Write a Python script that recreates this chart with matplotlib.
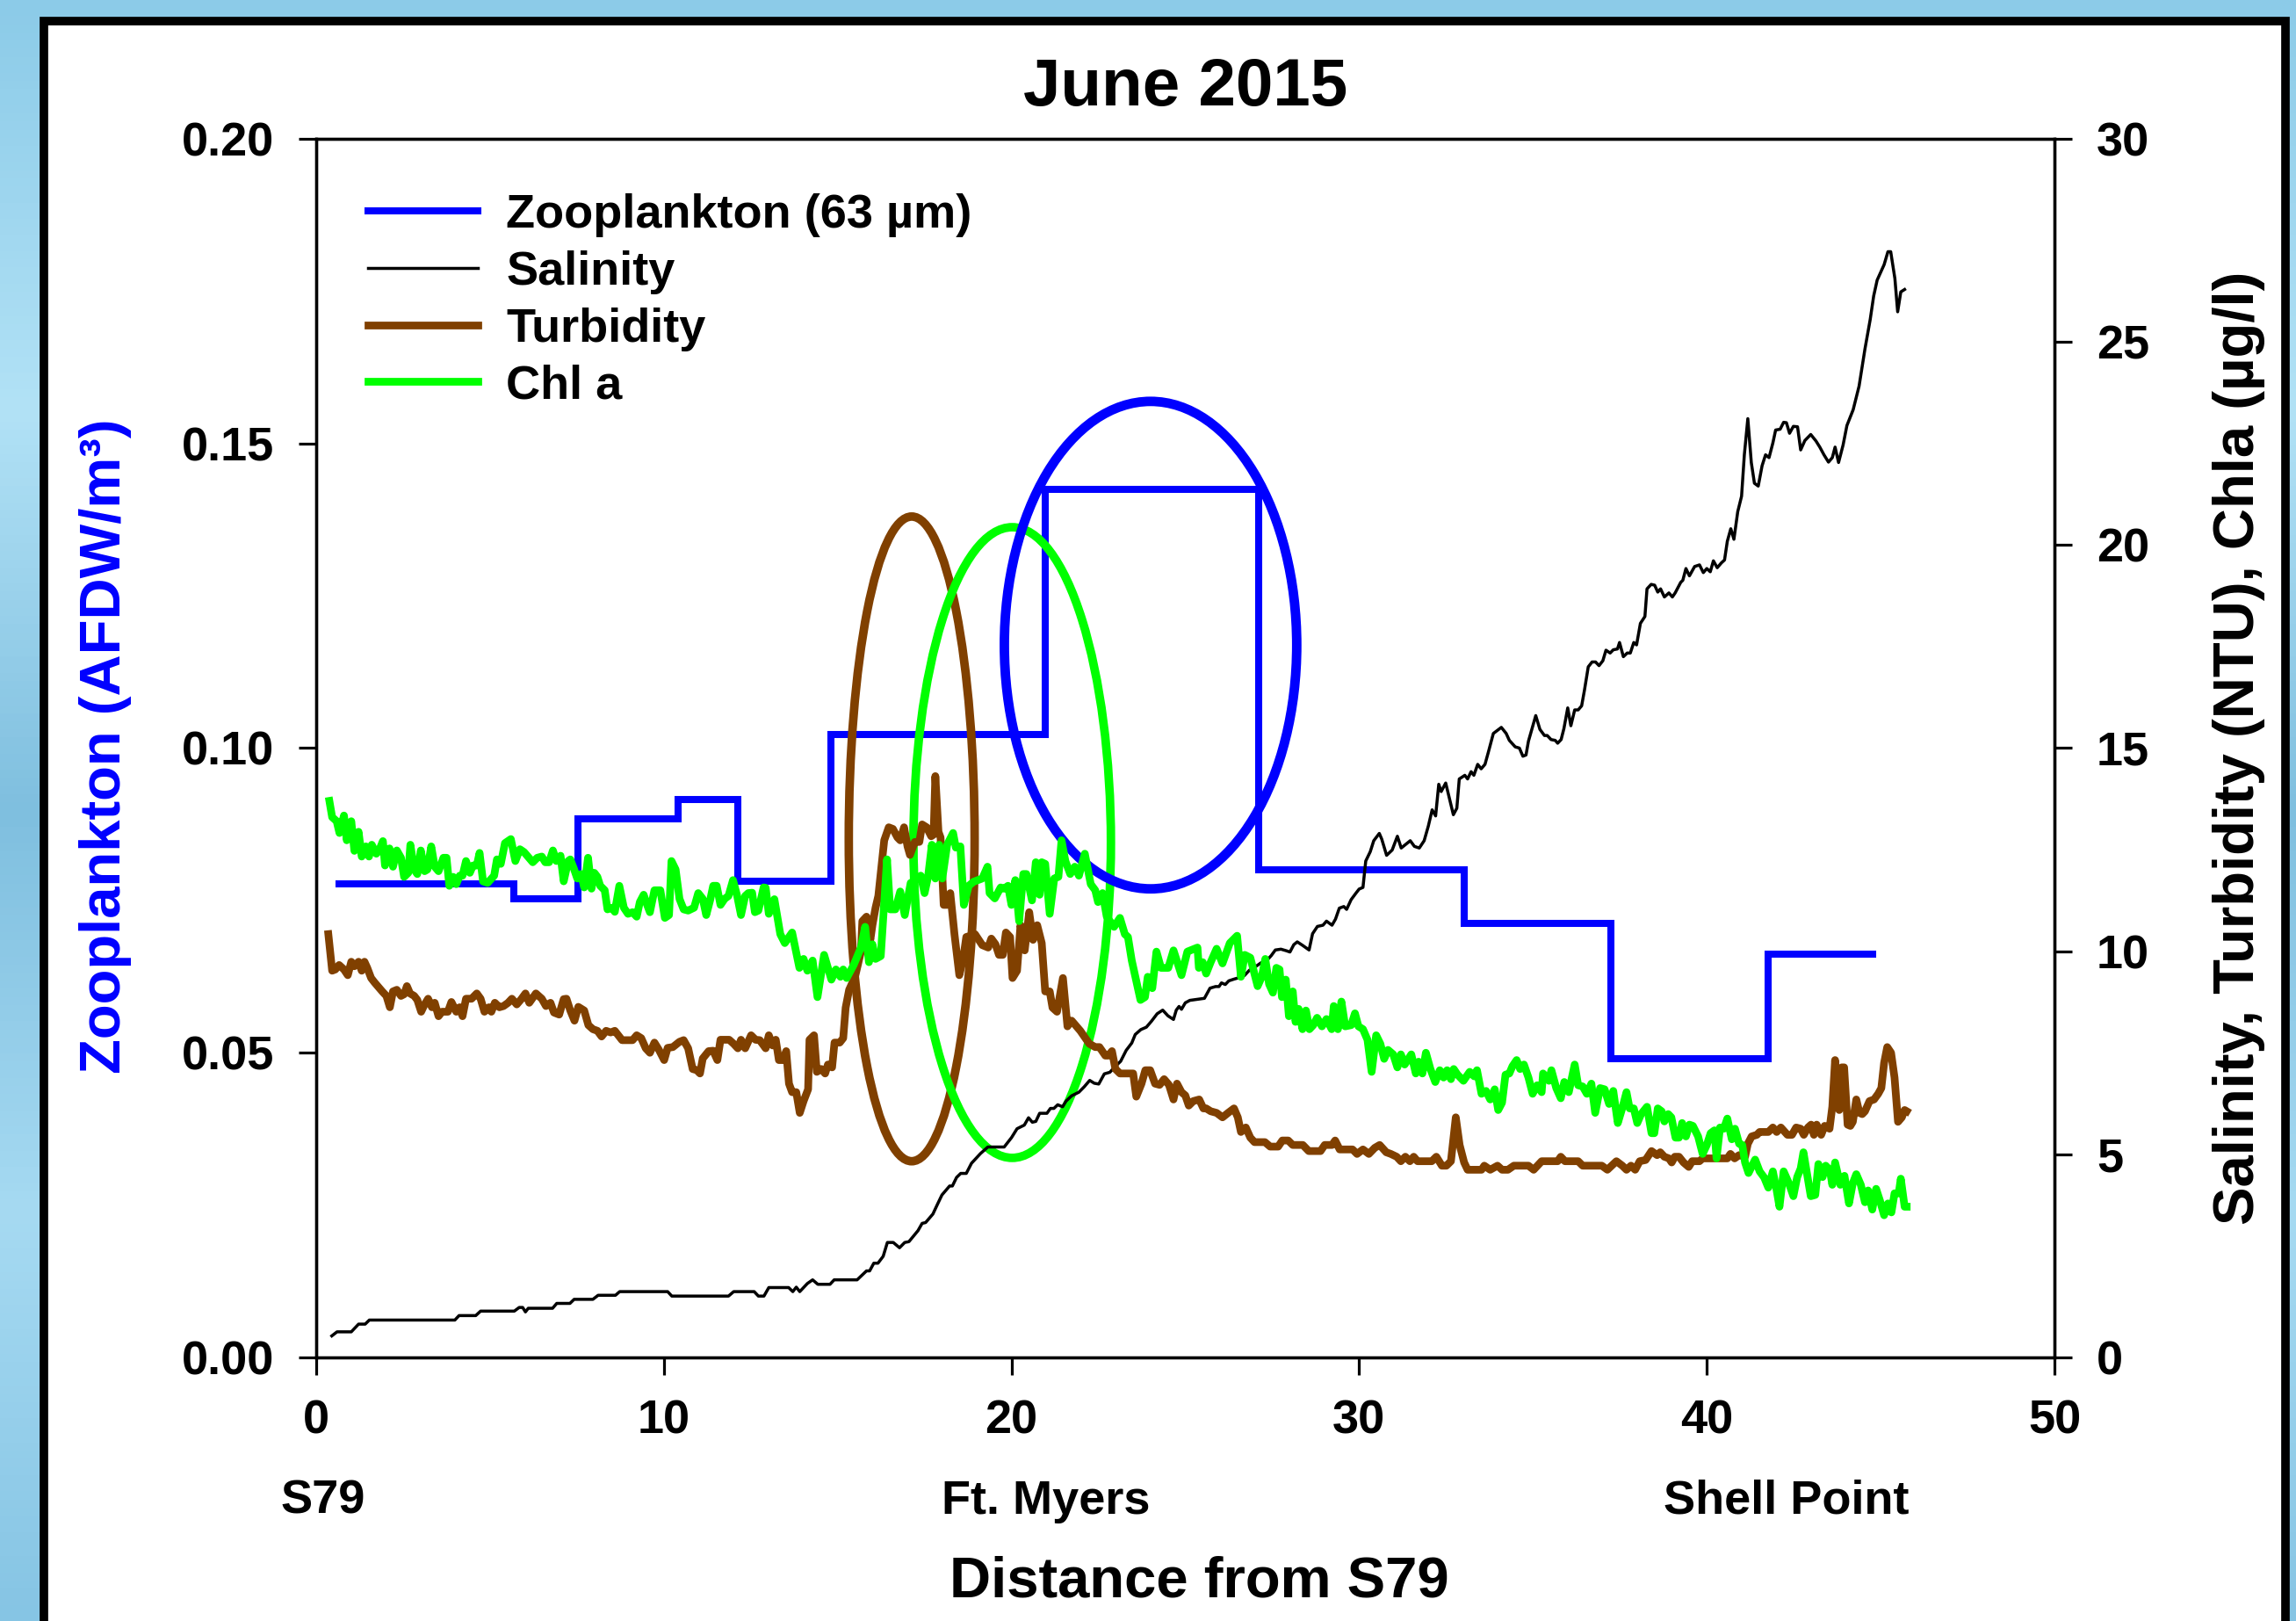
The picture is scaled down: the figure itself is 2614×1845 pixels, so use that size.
import numpy as np
import matplotlib
matplotlib.use("Agg")
import matplotlib.pyplot as plt
from matplotlib.patches import Ellipse, Rectangle
from matplotlib.colors import LinearSegmentedColormap

# zooplankton biomass, one level per sampling segment (AFDW/m3)
zoo_edges = [0.67, 5.69, 7.52, 10.40, 12.13, 14.81, 20.97, 27.12, 33.02, 37.23, 41.76, 44.78]
zoo_afdw = [0.0777, 0.0753, 0.0884, 0.0915, 0.0782, 0.1022, 0.1425, 0.0800, 0.0713, 0.0490, 0.0662]

# salinity transect
sal_km = [0.45, 0.60, 1.01, 1.22, 1.41, 1.53, 3.99, 4.11, 4.59, 4.73, 5.70, 5.84, 5.94, 6.02, 6.10,
          6.80, 6.92, 7.30, 7.42, 7.96, 8.11, 8.61, 8.73, 10.11, 10.23, 11.86, 12.01, 12.60, 12.72,
          12.88, 13.02, 13.59, 13.71, 13.81, 13.91, 14.13, 14.28, 14.43, 14.78, 14.90, 15.56, 15.83,
          15.92, 16.04, 16.16, 16.31, 16.43, 16.60, 16.78, 16.93, 17.05, 17.31, 17.43, 17.53, 17.74,
          17.86, 18.00, 18.22, 18.30, 18.42, 18.54, 18.70, 18.85, 19.11, 19.32, 19.79, 20.00, 20.16,
          20.37, 20.49, 20.60, 20.70, 20.81, 21.02, 21.12, 21.22, 21.33, 21.47, 21.57, 21.73, 21.94,
          22.09, 22.25, 22.38, 22.51, 22.67, 22.83, 22.98, 23.14, 23.30, 23.46, 23.56, 23.72, 23.88,
          24.03, 24.19, 24.35, 24.50, 24.66, 24.74, 24.82, 24.89, 25.00, 25.13, 25.55, 25.71, 25.87,
          25.97, 26.04, 26.15, 26.25, 26.39, 26.55, 26.70, 26.84, 27.02, 27.17, 27.33, 27.47, 27.59,
          27.75, 27.91, 28.01, 28.12, 28.22, 28.38, 28.56, 28.66, 28.80, 28.96, 29.06, 29.22, 29.32,
          29.43, 29.56, 29.64, 29.77, 29.90, 30.00, 30.11, 30.19, 30.32, 30.42, 30.58, 30.65, 30.79,
          30.95, 31.10, 31.21, 31.34, 31.47, 31.59, 31.73, 31.87, 31.99, 32.10, 32.20, 32.29, 32.36,
          32.49, 32.60, 32.71, 32.81, 32.88, 33.04, 33.12, 33.22, 33.30, 33.41, 33.51, 33.62, 33.72,
          33.86, 34.09, 34.23, 34.32, 34.49, 34.61, 34.71, 34.80, 34.87, 35.08, 35.20, 35.33, 35.41,
          35.52, 35.64, 35.71, 35.81, 35.89, 36.00, 36.09, 36.20, 36.30, 36.40, 36.48, 36.59, 36.70,
          36.80, 36.90, 37.01, 37.10, 37.22, 37.31, 37.43, 37.49, 37.60, 37.71, 37.80, 37.90, 37.98,
          38.09, 38.22, 38.28, 38.40, 38.50, 38.59, 38.67, 38.78, 38.91, 39.01, 39.09, 39.25, 39.31,
          39.40, 39.50, 39.65, 39.79, 39.90, 40.00, 40.10, 40.19, 40.30, 40.42, 40.51, 40.59, 40.69,
          40.78, 40.89, 41.00, 41.08, 41.18, 41.28, 41.37, 41.48, 41.59, 41.69, 41.79, 41.90, 41.98,
          42.11, 42.21, 42.29, 42.38, 42.49, 42.61, 42.70, 42.82, 42.99, 43.14, 43.25, 43.37, 43.50,
          43.61, 43.69, 43.79, 43.92, 44.03, 44.21, 44.38, 44.55, 44.70, 44.80, 44.90, 45.10, 45.21,
          45.29, 45.41, 45.49, 45.58, 45.69]
sal_psu = [0.53, 0.63, 0.63, 0.82, 0.82, 0.92, 0.92, 1.03, 1.03, 1.14, 1.14, 1.23, 1.23, 1.12, 1.21,
           1.21, 1.33, 1.33, 1.43, 1.43, 1.53, 1.53, 1.62, 1.62, 1.51, 1.51, 1.62, 1.62, 1.51,
           1.51, 1.72, 1.72, 1.62, 1.73, 1.62, 1.82, 1.91, 1.80, 1.80, 1.91, 1.91, 2.13,
           2.13, 2.32, 2.32, 2.49, 2.83, 2.83, 2.70, 2.83, 2.85, 3.12, 3.30, 3.32, 3.53,
           3.75, 4.00, 4.22, 4.22, 4.43, 4.53, 4.53, 4.78, 5.02, 5.18, 5.18, 5.41, 5.63,
           5.72, 5.90, 5.79, 5.81, 6.01, 6.01, 6.13, 6.13, 6.22, 6.17, 6.31, 6.44, 6.53,
           6.66, 6.82, 6.75, 6.73, 6.98, 7.02, 7.16, 7.29, 7.56, 7.74, 7.95, 8.07, 8.13,
           8.28, 8.46, 8.55, 8.41, 8.32, 8.55, 8.64, 8.57, 8.73, 8.79, 8.84, 9.09, 9.13,
           9.13, 9.22, 9.18, 9.27, 9.31, 9.35, 9.40, 9.53, 9.62, 9.71, 9.76, 9.89, 10.03,
           10.05, 10.01, 9.98, 10.16, 10.23, 10.14, 10.03, 10.43, 10.61, 10.64, 10.74, 10.64, 10.79,
           11.06, 11.10, 11.03, 11.27, 11.42, 11.53, 11.57, 12.22, 12.45, 12.72, 12.90, 12.76, 12.36,
           12.49, 12.83, 12.54, 12.63, 12.72, 12.58, 12.54, 12.72, 13.08, 13.48, 13.33, 14.11, 13.93,
           14.14, 13.75, 13.36, 13.52, 14.24, 14.33, 14.24, 14.42, 14.33, 14.60, 14.49, 14.60, 14.91,
           15.36, 15.51, 15.36, 15.19, 15.03, 15.00, 14.80, 14.83, 15.17, 15.80, 15.46, 15.31, 15.31,
           15.21, 15.19, 15.12, 15.21, 15.48, 15.99, 15.55, 15.94, 15.94, 16.04, 16.42, 17.00, 17.12,
           17.12, 17.03, 17.15, 17.41, 17.34, 17.42, 17.44, 17.60, 17.25, 17.34, 17.34, 17.60, 17.54,
           18.07, 18.24, 18.92, 19.03, 19.01, 18.84, 18.92, 18.72, 18.82, 18.72, 18.82, 19.08, 19.13,
           19.42, 19.24, 19.47, 19.51, 19.32, 19.42, 19.34, 19.61, 19.44, 19.56, 19.63, 20.09, 20.40,
           20.14, 20.82, 21.20, 22.22, 23.11, 22.03, 21.52, 21.45, 21.95, 22.22, 22.15, 22.51, 22.83,
           22.85, 23.02, 23.01, 22.75, 22.92, 22.91, 22.34, 22.57, 22.72, 22.56, 22.41, 22.22, 22.04,
           22.15, 22.41, 22.03, 22.46, 22.94, 23.33, 23.91, 24.83, 25.55, 26.13, 26.52, 26.90, 27.22,
           27.22, 26.56, 25.74, 26.23, 26.29]

# turbidity transect (NTU)
turb_km = [0.35, 0.46, 0.55, 0.66, 0.80, 0.91, 1.01, 1.10, 1.22, 1.31, 1.39, 1.47, 1.58, 1.68, 1.90,
           2.02, 2.12, 2.21, 2.32, 2.44, 2.53, 2.61, 2.70, 2.82, 2.91, 3.02, 3.12, 3.22, 3.33, 3.41,
           3.52, 3.62, 3.79, 3.89, 4.03, 4.13, 4.21, 4.31, 4.47, 4.62, 4.73, 4.84, 4.97, 5.04, 5.14,
           5.27, 5.39, 5.52, 5.63, 5.77, 5.90, 6.02, 6.13, 6.32, 6.49, 6.61, 6.74, 6.84, 6.99, 7.12,
           7.20, 7.31, 7.43, 7.54, 7.71, 7.83, 7.96, 8.09, 8.21, 8.34, 8.47, 8.59, 8.80, 9.10, 9.22,
           9.35, 9.48, 9.60, 9.73, 9.86, 10.01, 10.11, 10.26, 10.45, 10.57, 10.70, 10.83, 10.95, 11.04,
           11.12, 11.29, 11.42, 11.54, 11.63, 11.88, 12.01, 12.13, 12.22, 12.34, 12.51, 12.64, 12.76,
           12.93, 13.02, 13.13, 13.22, 13.31, 13.43, 13.52, 13.60, 13.69, 13.81, 13.91, 14.02, 14.15,
           14.19, 14.32, 14.40, 14.53, 14.64, 14.72, 14.84, 14.91, 15.06, 15.16, 15.23, 15.33, 15.50,
           15.67, 15.71, 15.83, 15.94, 16.00, 16.09, 16.17, 16.34, 16.47, 16.59, 16.72, 16.80, 16.91,
           17.01, 17.08, 17.22, 17.35, 17.43, 17.56, 17.69, 17.76, 17.81, 17.90, 17.96, 18.05, 18.15,
           18.24, 18.36, 18.50, 18.61, 18.70, 18.82, 18.95, 19.16, 19.33, 19.42, 19.54, 19.64, 19.75,
           19.84, 19.96, 20.03, 20.16, 20.26, 20.38, 20.51, 20.62, 20.74, 20.87, 20.97, 21.10, 21.18,
           21.31, 21.48, 21.61, 21.73, 21.98, 22.24, 22.41, 22.53, 22.70, 22.79, 22.89, 22.99, 23.12,
           23.50, 23.59, 23.74, 23.85, 23.99, 24.13, 24.26, 24.39, 24.53, 24.66, 24.76, 24.89, 25.00,
           25.10, 25.23, 25.40, 25.52, 25.60, 25.73, 25.90, 26.07, 26.23, 26.40, 26.51, 26.60, 26.74,
           26.87, 26.99, 27.29, 27.44, 27.67, 27.79, 27.96, 28.09, 28.38, 28.55, 28.89, 29.01, 29.22,
           29.31, 29.44, 29.81, 29.94, 30.11, 30.28, 30.45, 30.59, 30.78, 30.91, 31.08, 31.20, 31.33,
           31.46, 31.57, 31.68, 32.09, 32.22, 32.38, 32.51, 32.64, 32.78, 32.89, 33.02, 33.12, 33.52,
           33.60, 33.77, 33.98, 34.11, 34.28, 34.45, 34.87, 35.02, 35.25, 35.71, 35.80, 35.92, 36.30,
           36.43, 36.98, 37.14, 37.40, 37.57, 37.69, 37.82, 37.94, 38.07, 38.24, 38.41, 38.57, 38.66,
           38.78, 38.91, 38.99, 39.08, 39.20, 39.33, 39.48, 39.58, 39.79, 39.88, 40.59, 40.68, 40.80,
           40.93, 41.10, 41.18, 41.29, 41.44, 41.52, 41.77, 41.90, 42.01, 42.13, 42.32, 42.45, 42.57,
           42.70, 42.79, 42.91, 43.00, 43.08, 43.16, 43.29, 43.39, 43.53, 43.61, 43.69, 43.75, 43.81,
           43.88, 43.95, 44.05, 44.13, 44.20, 44.30, 44.39, 44.47, 44.55, 44.68, 44.81, 44.93, 45.02,
           45.10, 45.19, 45.30, 45.40, 45.50, 45.61, 45.69, 45.75]
turb_ntu = [10.42, 9.52, 9.55, 9.66, 9.55, 9.41, 9.74, 9.63, 9.74, 9.52, 9.74, 9.59, 9.34, 9.23, 9.01,
            8.90, 8.62, 9.01, 9.05, 8.90, 8.94, 9.14, 8.96, 8.90, 8.80, 8.51, 8.69, 8.83, 8.62, 8.73,
            8.40, 8.51, 8.51, 8.75, 8.51, 8.62, 8.40, 8.83, 8.83, 8.96, 8.83, 8.51, 8.62, 8.51, 8.73,
            8.62, 8.65, 8.73, 8.83, 8.69, 8.82, 8.96, 8.73, 8.96, 8.83, 8.65, 8.73, 8.49, 8.44, 8.82,
            8.83, 8.54, 8.29, 8.63, 8.54, 8.18, 8.08, 8.04, 7.90, 8.04, 8.00, 8.04, 7.81, 7.81, 7.93,
            7.86, 7.61, 7.50, 7.75, 7.57, 7.32, 7.62, 7.64, 7.77, 7.81, 7.61, 7.10, 7.07, 6.99,
            7.36, 7.54, 7.55, 7.32, 7.82, 7.82, 7.72, 7.61, 7.82, 7.61, 7.93, 7.82, 7.81,
            7.61, 7.93, 7.68, 7.82, 7.32, 7.32, 7.54, 6.74, 6.53, 6.53, 6.02, 6.31, 6.60,
            7.82, 7.93, 7.03, 7.10, 6.99, 7.21, 7.14, 7.75, 7.75, 7.86, 8.61, 9.05, 9.37,
            9.99, 10.74, 10.85, 10.28, 10.64, 11.07, 11.36, 12.73, 13.05, 13.01, 12.80, 12.73, 13.05,
            12.58, 12.37, 12.69, 12.69, 13.12, 13.05, 12.83, 12.87, 14.31, 12.94, 12.80, 11.14, 11.14,
            11.43, 10.42, 9.41, 9.81, 10.35, 10.38, 10.42, 10.15, 10.09, 10.31, 10.17, 9.91, 9.91,
            10.46, 10.35, 9.34, 9.52, 10.64, 10.02, 10.96, 10.28, 10.64, 10.20, 9.01, 9.01, 8.61,
            8.51, 9.34, 8.15, 8.29, 8.04, 7.72, 7.64, 7.64, 7.43, 7.43, 7.54, 7.10, 6.99,
            6.99, 6.42, 6.74, 7.07, 7.07, 6.74, 6.71, 6.85, 6.71, 6.35, 6.74, 6.53, 6.45,
            6.20, 6.31, 6.35, 6.13, 6.13, 6.06, 6.02, 5.91, 6.02, 6.13, 5.91, 5.55, 5.66,
            5.41, 5.30, 5.30, 5.19, 5.19, 5.34, 5.34, 5.23, 5.23, 5.08, 5.08, 5.23, 5.23,
            5.34, 5.12, 5.12, 5.01, 5.12, 5.01, 5.16, 5.23, 5.05, 5.01, 4.94, 4.83, 4.94,
            4.83, 4.94, 4.83, 4.83, 4.94, 4.72, 4.72, 4.83, 5.91, 5.23, 4.80, 4.62, 4.62,
            4.72, 4.62, 4.72, 4.62, 4.62, 4.72, 4.72, 4.62, 4.83, 4.83, 4.94, 4.83, 4.83,
            4.72, 4.72, 4.62, 4.83, 4.72, 4.62, 4.72, 4.62, 4.83, 4.86, 5.08, 4.98, 5.05,
            4.94, 4.90, 4.80, 4.94, 4.94, 4.80, 4.69, 4.83, 4.83, 4.90, 4.90, 5.01, 4.90,
            4.98, 4.94, 5.26, 5.44, 5.48, 5.55, 5.55, 5.66, 5.55, 5.66, 5.48, 5.48, 5.66,
            5.63, 5.48, 5.66, 5.73, 5.48, 5.73, 5.48, 5.70, 5.63, 6.17, 7.32, 6.31, 6.09,
            7.14, 7.14, 5.73, 5.70, 5.80, 6.35, 6.02, 5.99, 6.06, 6.31, 6.35, 6.49, 6.63,
            7.25, 7.64, 7.50, 6.89, 5.80, 5.91, 6.09, 6.06]

# chlorophyll a transect (ug/l)
chl_km = [0.38, 0.46, 0.59, 0.67, 0.80, 0.88, 1.01, 1.10, 1.22, 1.31, 1.43, 1.52, 1.60, 1.73, 1.81,
          1.92, 1.98, 2.11, 2.21, 2.32, 2.44, 2.53, 2.65, 2.71, 2.82, 2.91, 3.01, 3.12, 3.20, 3.31,
          3.41, 3.52, 3.66, 3.75, 3.83, 3.94, 4.03, 4.13, 4.21, 4.31, 4.42, 4.51, 4.62, 4.70, 4.80,
          4.93, 5.12, 5.20, 5.31, 5.43, 5.60, 5.73, 5.86, 5.98, 6.23, 6.36, 6.49, 6.59, 6.70, 6.81,
          6.91, 7.03, 7.12, 7.25, 7.31, 7.41, 7.51, 7.62, 7.71, 7.82, 7.92, 8.00, 8.09, 8.17, 8.30,
          8.38, 8.51, 8.59, 8.72, 8.85, 8.97, 9.10, 9.22, 9.31, 9.42, 9.52, 9.60, 9.73, 9.90, 10.03,
          10.15, 10.22, 10.34, 10.45, 10.57, 10.70, 10.87, 10.99, 11.12, 11.22, 11.33, 11.42, 11.52,
          11.63, 11.75, 11.86, 11.99, 12.11, 12.22, 12.34, 12.43, 12.54, 12.62, 12.72, 12.87, 12.93,
          13.02, 13.18, 13.35, 13.48, 13.69, 13.90, 14.02, 14.13, 14.28, 14.42, 14.61, 14.82, 14.95,
          15.08, 15.16, 15.26, 15.46, 15.67, 15.79, 15.90, 16.00, 16.09, 16.24, 16.42, 16.51, 16.66,
          16.80, 16.93, 17.10, 17.25, 17.39, 17.50, 17.60, 17.71, 17.81, 17.92, 18.01, 18.15, 18.32,
          18.40, 18.53, 18.63, 18.77, 18.91, 19.16, 19.31, 19.37, 19.52, 19.69, 19.79, 19.90, 20.00,
          20.11, 20.22, 20.34, 20.43, 20.59, 20.70, 20.81, 20.87, 20.97, 21.10, 21.23, 21.35, 21.44,
          21.55, 21.69, 21.82, 21.94, 22.11, 22.28, 22.41, 22.49, 22.62, 22.74, 22.95, 23.12, 23.26,
          23.35, 23.46, 23.71, 23.84, 23.92, 24.05, 24.17, 24.30, 24.51, 24.66, 24.89, 25.06, 25.35,
          25.39, 25.50, 25.60, 25.73, 25.90, 26.07, 26.28, 26.49, 26.60, 26.71, 26.87, 27.08, 27.20,
          27.30, 27.41, 27.52, 27.62, 27.71, 27.78, 27.89, 27.98, 28.09, 28.17, 28.26, 28.37, 28.47,
          28.57, 28.68, 28.79, 28.93, 29.06, 29.21, 29.27, 29.39, 29.49, 29.60, 29.77, 29.88, 29.98,
          30.11, 30.24, 30.36, 30.49, 30.61, 30.72, 30.83, 30.98, 31.10, 31.20, 31.31, 31.50, 31.63,
          31.71, 31.82, 31.92, 32.05, 32.19, 32.32, 32.43, 32.53, 32.64, 32.72, 32.83, 33.00, 33.18,
          33.31, 33.39, 33.52, 33.65, 33.77, 33.90, 34.00, 34.11, 34.21, 34.32, 34.41, 34.53, 34.63,
          34.74, 34.87, 34.99, 35.12, 35.25, 35.29, 35.46, 35.53, 35.67, 35.80, 35.90, 36.03, 36.20,
          36.30, 36.43, 36.55, 36.68, 36.79, 36.93, 37.06, 37.19, 37.31, 37.44, 37.58, 37.69, 37.78,
          37.90, 38.00, 38.11, 38.28, 38.41, 38.49, 38.59, 38.70, 38.78, 38.89, 38.98, 39.10, 39.20,
          39.29, 39.40, 39.50, 39.60, 39.75, 39.88, 40.00, 40.11, 40.22, 40.28, 40.38, 40.49, 40.59,
          40.72, 40.81, 40.93, 41.02, 41.10, 41.20, 41.39, 41.52, 41.65, 41.77, 41.90, 42.01, 42.09,
          42.21, 42.36, 42.49, 42.60, 42.70, 42.78, 42.99, 43.12, 43.21, 43.33, 43.42, 43.54, 43.61,
          43.69, 43.84, 43.96, 44.09, 44.20, 44.30, 44.43, 44.55, 44.64, 44.76, 44.87, 44.98, 45.10,
          45.21, 45.31, 45.40, 45.52, 45.58, 45.69, 45.75]
chl_ugl = [13.70, 13.30, 13.20, 12.91, 13.34, 12.73, 13.20, 12.47, 12.94, 12.33, 12.58, 12.33, 12.62, 12.40, 12.48,
           12.71, 12.11, 12.53, 12.08, 12.48, 12.30, 11.83, 11.93, 12.62, 12.01, 11.90, 12.48, 11.97, 12.01, 12.58,
           12.08, 11.97, 12.30, 12.30, 11.61, 11.83, 11.65, 11.86, 11.86, 12.22, 11.93, 12.11, 12.11, 12.42, 11.72,
           11.68, 11.86, 12.26, 12.15, 12.66, 12.76, 12.22, 12.51, 12.44, 12.19, 12.30, 12.33, 12.19, 12.19, 12.48,
           12.22, 12.35, 11.72, 12.22, 12.26, 12.04, 11.79, 11.90, 11.57, 12.30, 11.54, 11.93, 11.83, 11.61, 11.50,
           11.03, 11.07, 10.97, 11.61, 11.07, 10.92, 10.96, 10.85, 11.21, 11.39, 11.14, 10.96, 11.50, 11.50, 10.82,
           10.89, 12.22, 12.01, 11.29, 11.03, 11.00, 11.07, 11.43, 11.29, 10.89, 11.25, 11.61, 11.61,
           11.14, 11.29, 11.36, 11.75, 11.36, 10.89, 11.36, 11.43, 11.44, 10.96, 11.00, 11.57, 11.56,
           10.92, 11.28, 10.42, 10.20, 10.46, 9.59, 9.81, 9.52, 9.77, 8.87, 9.91, 9.30, 9.55,
           9.37, 9.55, 9.34, 9.66, 10.09, 10.60, 9.73, 10.17, 9.81, 9.88, 12.26, 11.03, 11.03,
           11.47, 10.89, 11.68, 11.75, 11.86, 11.43, 11.83, 12.62, 11.79, 12.62, 11.79, 12.62, 12.91,
           12.55, 12.58, 11.14, 11.61, 11.71, 11.79, 12.08, 11.43, 11.30, 11.57, 11.54, 11.61, 11.14,
           11.75, 10.74, 11.90, 11.90, 11.25, 12.19, 11.39, 12.19, 12.15, 10.92, 11.79, 11.83, 12.73,
           12.22, 11.90, 12.08, 11.86, 12.40, 11.65, 11.50, 11.21, 11.43, 10.85, 10.60, 10.82, 10.42,
           10.35, 9.77, 8.80, 8.87, 9.37, 9.09, 9.99, 9.59, 9.59, 10.02, 9.41, 9.99, 10.09,
           9.59, 9.73, 9.45, 9.73, 10.06, 9.70, 10.20, 10.38, 9.37, 9.91, 9.84, 9.14, 9.37,
           9.81, 9.19, 8.98, 9.59, 9.55, 8.87, 9.30, 8.40, 9.01, 8.26, 8.58, 8.08, 8.54,
           8.08, 8.18, 8.36, 8.15, 8.33, 8.08, 8.65, 8.08, 8.76, 8.15, 8.18, 8.47, 8.15,
           8.08, 7.82, 7.03, 7.93, 7.72, 7.35, 7.57, 7.46, 7.14, 7.46, 7.21, 7.46, 6.99,
           7.28, 6.99, 7.50, 7.10, 6.78, 7.07, 6.89, 7.07, 6.85, 7.10, 6.96, 6.81, 7.03,
           6.92, 7.07, 6.49, 6.56, 6.35, 6.60, 6.09, 6.27, 6.96, 6.99, 7.17, 7.32, 7.10,
           7.21, 6.89, 6.49, 6.70, 6.53, 6.99, 6.81, 7.07, 6.63, 6.38, 6.78, 6.53, 7.21,
           6.70, 6.67, 6.49, 6.74, 6.02, 6.63, 6.60, 6.24, 6.56, 5.77, 6.17, 6.53, 6.13,
           6.13, 5.77, 5.99, 6.17, 5.52, 5.52, 6.13, 6.06, 5.81, 5.99, 5.91, 5.41, 5.41,
           5.77, 5.44, 5.73, 5.70, 5.44, 5.01, 5.23, 5.52, 5.59, 4.90, 5.66, 5.63, 5.88,
           5.37, 5.63, 5.26, 5.23, 4.80, 4.54, 4.87, 4.58, 4.43, 4.18, 4.58, 4.11, 3.71,
           4.58, 4.29, 3.97, 4.44, 4.65, 5.05, 3.97, 4.00, 4.76, 4.44, 4.72, 4.61, 4.25,
           4.80, 4.25, 4.47, 3.79, 4.29, 4.51, 4.25, 3.82, 4.11, 3.64, 4.15, 3.86, 3.50,
           3.79, 3.57, 4.04, 4.04, 4.40, 3.71, 3.71]

stations = ["S79", "Ft. Myers", "Shell Point"]
station_km = [0.2, 21.0, 42.3]

# highlighted zones drawn around the features (centre km, centre AFDW, width km, height AFDW)
zone_x = [17.13, 20.02, 24.0]
zone_y = [0.0851, 0.0845, 0.1169]
zone_w = [3.62, 5.68, 8.41]
zone_h = [0.1058, 0.1035, 0.0800]

BLUE = "#0000ff"
BROWN = "#804000"
GREEN = "#00ff00"

plt.rcParams["font.family"] = ["Liberation Sans", "DejaVu Sans"]
plt.rcParams["font.weight"] = "bold"

fig = plt.figure(figsize=(26.14, 18.45), dpi=100)

# slide-style blue background with white framed panel
bg = fig.add_axes([0, 0, 1, 1], zorder=-10)
bg.axis("off")
grad = np.linspace(0, 1, 200).reshape(-1, 1)
bg_cmap = LinearSegmentedColormap.from_list("bg", ["#8ccbe8", "#b2e2f6", "#7fbfdf", "#a6daf2", "#86c5e4"])
bg.imshow(grad, cmap=bg_cmap, aspect="auto", extent=[0, 1, 0, 1])
panel = Rectangle((0.0191, -0.05), 0.9763, 1.037, transform=fig.transFigure,
                  facecolor="white", edgecolor="black", linewidth=7, zorder=-5)
fig.add_artist(panel)

ax = fig.add_axes([0.1377, 0.1626, 0.7571, 0.7518])
ax2 = ax.twinx()

zoo_line, = ax.step(zoo_edges, np.append(zoo_afdw, zoo_afdw[-1]), where="post",
                    color=BLUE, lw=5.8, solid_joinstyle="miter")
sal_line, = ax2.plot(sal_km, sal_psu, color="black", lw=2.5)
turb_line, = ax2.plot(turb_km, turb_ntu, color=BROWN, lw=6.3)
chl_line, = ax2.plot(chl_km, chl_ugl, color=GREEN, lw=6.3)

for xc, yc, w, h, c, lw in zip(zone_x, zone_y, zone_w, zone_h, [BROWN, GREEN, BLUE], [7.0, 7.0, 7.8]):
    ax2.add_patch(Ellipse((xc, yc), w, h, transform=ax.transData,
                          fill=False, edgecolor=c, linewidth=lw))

ax.set_xlim(0, 50)
ax.set_ylim(0, 0.20)
ax2.set_ylim(0, 30)
ax.set_xticks(np.arange(0, 51, 10))
ax.set_yticks([0, 0.05, 0.10, 0.15, 0.20])
ax.set_yticklabels(["0.00", "0.05", "0.10", "0.15", "0.20"])
ax2.set_yticks(np.arange(0, 31, 5))

for a in (ax, ax2):
    for sp in a.spines.values():
        sp.set_linewidth(2.4)
    a.tick_params(direction="out", length=14.5, width=2.3, pad=20, labelsize=39)

ax.set_title("June 2015", fontsize=55, fontweight="bold", y=1.0274, pad=0)

ax.set_ylabel("Zooplankton (AFDW/m³)", color=BLUE, fontsize=47, fontweight="bold")
ax.yaxis.set_label_coords(-0.121, 0.502)
ax.yaxis.label.set_va("center")
ax2.set_ylabel("Salinity, Turbidity (NTU), Chla (µg/l)", fontsize=47, fontweight="bold")
ax2.yaxis.set_label_coords(1.106, 0.5)
ax2.yaxis.label.set_va("center")

ax.set_xlabel("Distance from S79", fontsize=47, fontweight="bold")
ax.xaxis.set_label_coords(0.508, -0.184)
ax.xaxis.label.set_va("center")

for name, km in zip(stations, station_km):
    ax.text(km, -0.118, name, transform=ax.get_xaxis_transform(), ha="center", va="center",
            fontsize=39, fontweight="bold")

ax2.legend([zoo_line, sal_line, turb_line, chl_line],
           ["Zooplankton (63 µm)", "Salinity", "Turbidity", "Chl a"],
           loc="upper left", bbox_to_anchor=(0.03, 0.955), frameon=False,
           fontsize=39, handlelength=2.3, handletextpad=0.6, labelspacing=0.27,
           borderpad=0, borderaxespad=0)

fig.savefig("out.png", dpi=100)
